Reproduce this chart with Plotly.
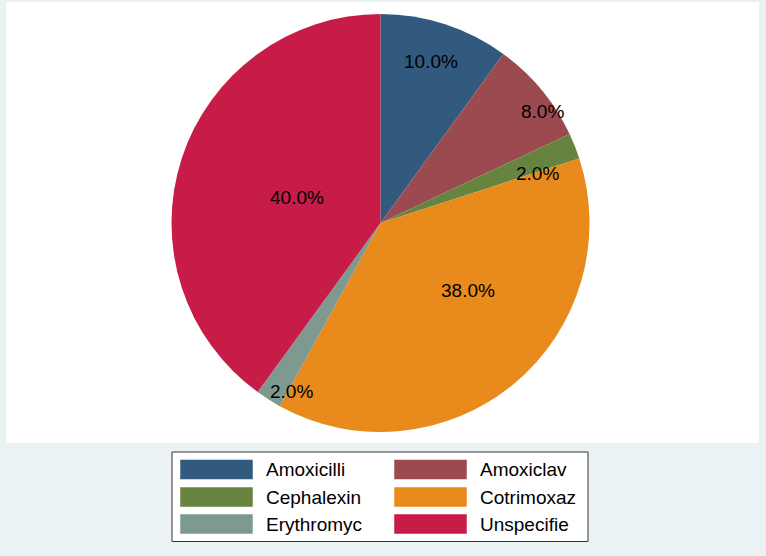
import math
import plotly.graph_objects as go

# ---- data ----
categories = ["Amoxicilli", "Amoxiclav", "Cephalexin", "Cotrimoxaz", "Erythromyc", "Unspecifie"]
counts = [5, 4, 1, 19, 1, 20]

# ---- styles ----
colors = ["#325A7E", "#9B4A50", "#668440", "#E88A1C", "#7E9A90", "#C81C48"]
# label placement: (fraction of slice's angular span, fraction of radius)
label_place = [(0.48, 0.81), (0.67, 0.94), (1.04, 0.79), (0.405, 0.53), (-0.13, 0.91), (0.495, 0.42)]

W, H = 766, 556
FONT = "Liberation Sans, Arial, sans-serif"
cx, cy, R = 380.5, 223.0, 209.0

def px(x):
    return x / W

def py(y):
    return 1 - y / H

fig = go.Figure()
fig.add_trace(go.Pie(
    labels=categories,
    values=counts,
    sort=False,
    direction="clockwise",
    rotation=0,
    marker=dict(colors=colors, line=dict(width=0)),
    textinfo="none",
    hoverinfo="label+percent",
    showlegend=False,
    domain=dict(x=[px(cx - R), px(cx + R)], y=[py(cy + R), py(cy - R)]),
))

shapes = []
annotations = []

# white plot region
shapes.append(dict(type="rect", xref="paper", yref="paper", layer="below",
                   x0=px(6), x1=px(759), y0=py(443), y1=py(2),
                   fillcolor="white", line=dict(width=0)))

# slice percentage labels, positioned from the data's cumulative angles
total = sum(counts)
cum = 0
for v, (af, rf) in zip(counts, label_place):
    a0 = cum / total * 360
    a1 = (cum + v) / total * 360
    cum += v
    ang = math.radians(a0 + af * (a1 - a0))
    lx = cx + rf * R * math.sin(ang)
    ly = cy - rf * R * math.cos(ang)
    annotations.append(dict(xref="paper", yref="paper", x=px(lx), y=py(ly + 0.5),
                            text=f"{v / total * 100:.1f}%", showarrow=False,
                            xanchor="center", yanchor="middle",
                            font=dict(family=FONT, size=19, color="black")))

# legend box
shapes.append(dict(type="rect", xref="paper", yref="paper",
                   x0=px(172), x1=px(588), y0=py(541.5), y1=py(452),
                   fillcolor="white", line=dict(color="#333333", width=1)))
col_sw_x = [180, 394]
col_tx_x = [264, 478]
row_y = [469.5, 497, 524]
for i, (lab, col) in enumerate(zip(categories, colors)):
    r, c = divmod(i, 2)
    yc = row_y[r]
    shapes.append(dict(type="rect", xref="paper", yref="paper",
                       x0=px(col_sw_x[c]), x1=px(col_sw_x[c] + 73),
                       y0=py(yc + 10), y1=py(yc - 10),
                       fillcolor=col, line=dict(color="white", width=0.5)))
    annotations.append(dict(xref="paper", yref="paper", x=px(col_tx_x[c]), y=py(yc),
                            text=lab, showarrow=False, xanchor="left", yanchor="middle",
                            font=dict(family=FONT, size=19, color="black")))

fig.update_layout(
    width=W, height=H,
    margin=dict(l=0, r=0, t=0, b=0),
    paper_bgcolor="#EAF2F3",
    plot_bgcolor="#EAF2F3",
    shapes=shapes,
    annotations=annotations,
)

fig.write_html("out.html")
